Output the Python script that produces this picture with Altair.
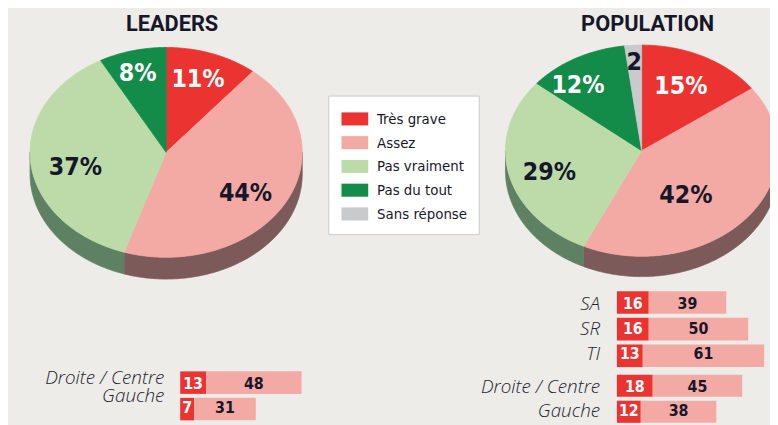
import math
import altair as alt
import pandas as pd

# ---------------- data ----------------
CATEGORIES = ["Très grave", "Assez", "Pas vraiment", "Pas du tout", "Sans réponse"]

LEADERS_PCT = [11, 44, 37, 8, 0]
LEADERS_LABELS = ["11%", "44%", "37%", "8%", ""]
POPULATION_PCT = [15, 42, 29, 12, 2]
POPULATION_LABELS = ["15%", "42%", "29%", "12%", "2"]

LEADERS_ROWS = ["Droite / Centre", "Gauche"]
LEADERS_TRES = [13, 7]
LEADERS_ASSEZ = [48, 31]

POP_PARTY_ROWS = ["SA", "SR", "TI"]
POP_PARTY_TRES = [16, 16, 13]
POP_PARTY_ASSEZ = [39, 50, 61]

POP_SIDE_ROWS = ["Droite / Centre", "Gauche"]
POP_SIDE_TRES = [18, 12]
POP_SIDE_ASSEZ = [45, 38]

# ---------------- styles / layout ----------------
TOP_COLORS = ["#EB3431", "#F4AAA4", "#BCDBA9", "#138C4A", "#C9CACC"]
SIDE_COLORS = ["#7E3A38", "#7C5A5A", "#5F8163", "#1F5A35", "#8A8B8D"]
LABEL_COLORS = ["white", "#17172A", "#17172A", "white", "#17172A"]
BG = "#EDECE9"
DARK = "#17172A"
FONT_COND = "DejaVu Sans Condensed, Roboto, sans-serif"
FONT_TITLE = "Roboto, sans-serif"
FONT_ITAL = "Open Sans, Lato, sans-serif"

W, H = 770, 417

PIES = [
    dict(name="LEADERS", pct=LEADERS_PCT, labels=LEADERS_LABELS,
         cx=159.8, cy=143.7, rx=137.5, ry=106.0, depth=22.0, title_gap=24,
         label_off=[(32.2, -73.7), (80.2, 41.3), (-91.8, 15.3), (-28.8, -79.7), (0, 0)]),
    dict(name="POPULATION", pct=POPULATION_PCT, labels=POPULATION_LABELS,
         cx=640.3, cy=142.0, rx=137.6, ry=106.7, depth=20.5, title_gap=21.5,
         label_off=[(39.7, -65.0), (44.7, 45.0), (-93.3, 22.0), (-64.3, -66.0), (-7.6, -90.0)]),
]

px_x = alt.Scale(domain=[0, W], range=[0, W])
px_y = alt.Scale(domain=[0, H], range=[0, H])


def ell(p, t, dy=0.0):
    return p["cx"] + p["rx"] * math.sin(t), p["cy"] - p["ry"] * math.cos(t) + dy


def arc(p, a, b, dy=0.0):
    n = max(2, int(abs(b - a) / math.radians(0.5)) + 1)
    return [ell(p, a + (b - a) * k / (n - 1), dy) for k in range(n)]


top_rows, side_rows, lab_rows, title_rows = [], [], [], []
for p in PIES:
    total = sum(p["pct"])
    cum = 0.0
    for cat, v, lab, off in zip(CATEGORIES, p["pct"], p["labels"], p["label_off"]):
        if v <= 0:
            continue
        t0 = 2 * math.pi * cum / total
        t1 = 2 * math.pi * (cum + v) / total
        cum += v
        pid = f"{p['name']}-{cat}"
        pts = [(p["cx"], p["cy"])] + arc(p, t0, t1) + [(p["cx"], p["cy"])]
        for i, (x, y) in enumerate(pts):
            top_rows.append(dict(poly=pid, cat=cat, i=i, x=x, y=y))
        a, b = max(t0, math.pi / 2), min(t1, 3 * math.pi / 2)
        if b > a:
            spts = arc(p, a, b) + arc(p, b, a, p["depth"])
            spts.append(spts[0])
            for i, (x, y) in enumerate(spts):
                side_rows.append(dict(poly=pid, cat=cat, i=i, x=x, y=y))
        lab_rows.append(dict(cat=cat, text=lab, x=p["cx"] + off[0], y=p["cy"] + off[1]))
    title_rows.append(dict(text=p["name"], x=p["cx"] + 6, y=p["cy"] - p["ry"] - p["title_gap"]))

top_df = pd.DataFrame(top_rows)
side_df = pd.DataFrame(side_rows)
lab_df = pd.DataFrame(lab_rows)
title_df = pd.DataFrame(title_rows)

sides = alt.Chart(side_df).mark_line(filled=True, strokeWidth=0.8).encode(
    x=alt.X("x:Q", scale=px_x, axis=None),
    y=alt.Y("y:Q", scale=px_y, axis=None),
    color=alt.Color("cat:N", scale=alt.Scale(domain=CATEGORIES, range=SIDE_COLORS), legend=None),
    stroke=alt.Stroke("cat:N", scale=alt.Scale(domain=CATEGORIES, range=SIDE_COLORS), legend=None),
    detail="poly:N",
    order="i:Q",
)

tops = alt.Chart(top_df).mark_line(filled=True, strokeWidth=0.8).encode(
    x=alt.X("x:Q", scale=px_x, axis=None),
    y=alt.Y("y:Q", scale=px_y, axis=None),
    color=alt.Color(
        "cat:N",
        scale=alt.Scale(domain=CATEGORIES, range=TOP_COLORS),
        legend=alt.Legend(
            orient="none", legendX=323.7, legendY=86.3, title=None,
            fillColor="white", strokeColor="#C9C9C9", padding=11.6,
            symbolType="M-0.86,-0.55H1.39V0.55H-0.86Z", symbolSize=576,
            symbolStrokeWidth=0, symbolOpacity=1,
            labelFont=FONT_COND, labelFontSize=15, labelColor=DARK,
            labelOffset=13.7, rowPadding=4, labelLimit=300,
        ),
    ),
    stroke=alt.Stroke("cat:N", scale=alt.Scale(domain=CATEGORIES, range=TOP_COLORS), legend=None),
    detail="poly:N",
    order="i:Q",
)

pie_labels = alt.Chart(lab_df).mark_text(
    font=FONT_COND, fontSize=25, fontWeight="bold", align="center", baseline="middle"
).encode(
    x=alt.X("x:Q", scale=px_x, axis=None),
    y=alt.Y("y:Q", scale=px_y, axis=None),
    text="text:N",
    color=alt.Color("cat:N", scale=alt.Scale(domain=CATEGORIES, range=LABEL_COLORS), legend=None),
)

titles = alt.Chart(title_df).mark_text(
    font=FONT_TITLE, fontSize=22, fontWeight="bold", color=DARK, align="center", baseline="middle"
).encode(
    x=alt.X("x:Q", scale=px_x, axis=None),
    y=alt.Y("y:Q", scale=px_y, axis=None),
    text="text:N",
)


def bar_block(rows, tres, assez, x0, y0, y1, label_dx, label_dy=None):
    recs = []
    for r, a, b in zip(rows, tres, assez):
        recs.append(dict(row=r, cat=CATEGORIES[0], start=0, end=a, value=a, mid=a / 2))
        recs.append(dict(row=r, cat=CATEGORIES[1], start=a, end=a + b, value=b, mid=a + b / 2))
    df = pd.DataFrame(recs)
    xs = alt.Scale(domain=[0, 100], range=[x0, x0 + 201])
    ys = alt.Scale(domain=rows, range=[y0, y1], paddingInner=0.15, paddingOuter=0)
    base = alt.Chart(df)
    bars = base.mark_bar(cornerRadius=0).encode(
        x=alt.X("start:Q", scale=xs, axis=None),
        x2="end:Q",
        y=alt.Y("row:N", scale=ys, axis=None, sort=rows),
        color=alt.Color("cat:N", scale=alt.Scale(domain=CATEGORIES[:2], range=TOP_COLORS[:2]), legend=None),
    )
    nums = base.mark_text(font=FONT_COND, fontSize=16, fontWeight="bold", baseline="middle").encode(
        x=alt.X("mid:Q", scale=xs, axis=None),
        y=alt.Y("row:N", scale=ys, axis=None, sort=rows),
        text="value:Q",
        color=alt.Color("cat:N", scale=alt.Scale(domain=CATEGORIES[:2], range=["white", DARK]), legend=None),
    )
    layers = [bars, nums]
    lab_base = base.transform_filter(alt.datum.cat == CATEGORIES[0])
    offsets = label_dy if label_dy else [0] * len(rows)
    for r, dy in zip(rows, offsets):
        layers.append(
            lab_base.transform_filter(alt.datum.row == r).mark_text(
                font=FONT_ITAL, fontSize=19, fontStyle="italic", fontWeight=300,
                color="#24242E", align="right", baseline="middle", dx=label_dx, dy=dy,
            ).encode(
                x=alt.X("start:Q", scale=xs, axis=None),
                y=alt.Y("row:N", scale=ys, axis=None, sort=rows),
                text="row:N",
            )
        )
    return layers


bars_leaders = bar_block(LEADERS_ROWS, LEADERS_TRES, LEADERS_ASSEZ, 174.0, 365.0, 414.5, -16, [-6, -12])
bars_party = bar_block(POP_PARTY_ROWS, POP_PARTY_TRES, POP_PARTY_ASSEZ, 615.3, 284.0, 360.7, -17)
bars_side = bar_block(POP_SIDE_ROWS, POP_SIDE_TRES, POP_SIDE_ASSEZ, 615.3, 368.3, 417.0, -17)

chart = alt.layer(
    sides, tops, pie_labels, titles, *bars_leaders, *bars_party, *bars_side
).resolve_scale(
    x="independent", y="independent", color="independent", stroke="independent"
).properties(
    width=W, height=H, padding=0, background=BG,
    autosize=alt.AutoSizeParams(type="none"),
).configure_view(stroke=None)

chart.save("out.html", embed_options={"renderer": "svg", "actions": False})
